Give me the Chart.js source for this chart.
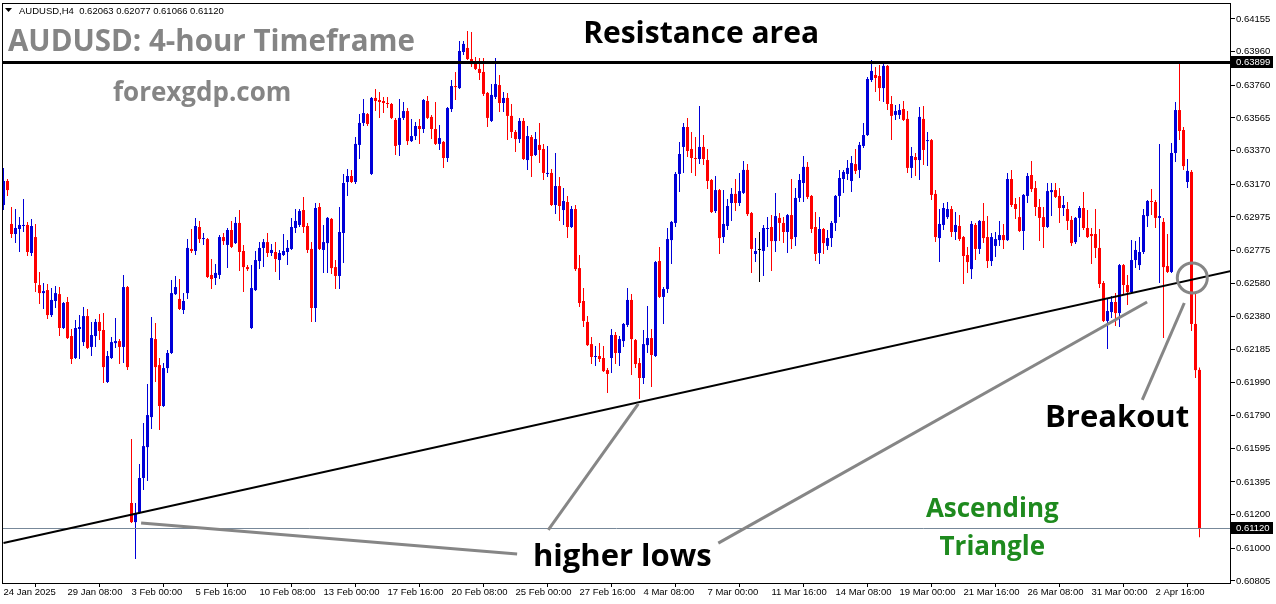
<!DOCTYPE html>
<html>
<head>
<meta charset="utf-8">
<title>AUDUSD H4</title>
<script src="https://cdn.jsdelivr.net/npm/chart.js@4.4.1/dist/chart.umd.min.js"></script>
<style>
	html, body { margin: 0; padding: 0; background: #ffffff; }
	#wrap { width: 1276px; height: 604px; }
</style>
</head>
<body>
<div id="wrap"><canvas id="chart" width="1276" height="604"></canvas></div>
<script>
// AUDUSD H4 candles (bar 0 = leftmost)
const opens = [
	0.63046, 0.63189, 0.62933, 0.62873, 0.62903, 0.62921, 0.62927, 0.62760, 0.62855, 0.62569,
	0.62521, 0.62539, 0.62390, 0.62474, 0.62515, 0.62313, 0.62468, 0.62265, 0.62134, 0.62307,
	0.62229, 0.62384, 0.62200, 0.62265, 0.62349, 0.62301, 0.61991, 0.62134, 0.62223, 0.62235,
	0.62200, 0.62557, 0.61270, 0.61156, 0.61210, 0.61419, 0.61603, 0.61782, 0.62247, 0.62092,
	0.61848, 0.62074, 0.62164, 0.62515, 0.62486, 0.62420, 0.62521, 0.62784, 0.62772, 0.62915,
	0.62843, 0.62843, 0.62629, 0.62611, 0.62629, 0.62855, 0.62808, 0.62897, 0.62819, 0.62939,
	0.62772, 0.62676, 0.62313, 0.62539, 0.62712, 0.62790, 0.62825, 0.62760, 0.62766, 0.62718,
	0.62748, 0.62766, 0.62784, 0.62909, 0.62927, 0.63016, 0.62921, 0.62784, 0.62432, 0.63034,
	0.62778, 0.62819, 0.62963, 0.62676, 0.62623, 0.62879, 0.63183, 0.63219, 0.63183, 0.63404,
	0.63535, 0.63588, 0.63231, 0.63684, 0.63672, 0.63666, 0.63654, 0.63648, 0.63553, 0.63404,
	0.63565, 0.63606, 0.63427, 0.63457, 0.63517, 0.63499, 0.63666, 0.63571, 0.63499, 0.63410,
	0.63422, 0.63326, 0.63618, 0.63755, 0.63743, 0.63958, 0.63982, 0.63916, 0.63904, 0.63857,
	0.63839, 0.63714, 0.63547, 0.63690, 0.63761, 0.63654, 0.63684, 0.63577, 0.63481, 0.63439,
	0.63547, 0.63314, 0.63451, 0.63344, 0.63404, 0.63380, 0.63231, 0.63237, 0.63046, 0.63159,
	0.63016, 0.63064, 0.62915, 0.63022, 0.62670, 0.62474, 0.62349, 0.62217, 0.62140, 0.62146,
	0.62134, 0.62062, 0.62134, 0.62271, 0.62164, 0.62235, 0.62331, 0.62480, 0.62241, 0.62104,
	0.62015, 0.62211, 0.62253, 0.62146, 0.62712, 0.62498, 0.62545, 0.62837, 0.62939, 0.63231,
	0.63392, 0.63511, 0.63380, 0.63326, 0.63320, 0.63392, 0.63314, 0.63195, 0.63010, 0.63135,
	0.62855, 0.62921, 0.63058, 0.63112, 0.63058, 0.63118, 0.63255, 0.62998, 0.62754, 0.62778,
	0.62772, 0.62903, 0.62915, 0.62831, 0.62969, 0.62939, 0.62885, 0.62986, 0.62855, 0.63088,
	0.63177, 0.63273, 0.63100, 0.62915, 0.62760, 0.62903, 0.62802, 0.62849, 0.62939, 0.63100,
	0.63201, 0.63231, 0.63189, 0.63290, 0.63255, 0.63398, 0.63463, 0.63791, 0.63821, 0.63815,
	0.63743, 0.63875, 0.63648, 0.63583, 0.63583, 0.63618, 0.63559, 0.63267, 0.63332, 0.63314,
	0.63559, 0.63427, 0.63433, 0.63112, 0.62849, 0.62927, 0.62974, 0.63022, 0.62885, 0.62921,
	0.62855, 0.62748, 0.62664, 0.62927, 0.62784, 0.62951, 0.62855, 0.62712, 0.62802, 0.62837,
	0.62867, 0.62837, 0.63201, 0.63052, 0.62974, 0.62891, 0.63100, 0.63225, 0.63147, 0.63034,
	0.62974, 0.62915, 0.63123, 0.63135, 0.63100, 0.63028, 0.63022, 0.62957, 0.62825, 0.62969,
	0.63028, 0.62909, 0.62873, 0.62873, 0.62790, 0.62581, 0.62355, 0.62408, 0.62468, 0.62402,
	0.62688, 0.62569, 0.62527, 0.62718, 0.62688, 0.62766, 0.62980, 0.63070, 0.63064, 0.62969,
	0.62945, 0.62682, 0.62647, 0.63356, 0.63612, 0.63493, 0.63183, 0.63243, 0.62337, 0.62063
]
const highs = [
	0.63267, 0.63201, 0.63034, 0.63022, 0.62974, 0.63082, 0.62945, 0.62963, 0.62933, 0.62647,
	0.62581, 0.62575, 0.62551, 0.62563, 0.62557, 0.62468, 0.62498, 0.62307, 0.62360, 0.62390,
	0.62438, 0.62426, 0.62349, 0.62366, 0.62396, 0.62402, 0.62176, 0.62259, 0.62372, 0.62247,
	0.62629, 0.62563, 0.61651, 0.61270, 0.61502, 0.61746, 0.61979, 0.62378, 0.62343, 0.62134,
	0.62104, 0.62182, 0.62599, 0.62623, 0.62605, 0.62521, 0.62843, 0.62903, 0.62969, 0.62951,
	0.62879, 0.62849, 0.62724, 0.62694, 0.62867, 0.62879, 0.62909, 0.62951, 0.62974, 0.63016,
	0.62808, 0.62688, 0.62688, 0.62772, 0.62825, 0.62843, 0.62879, 0.62814, 0.62825, 0.62778,
	0.62873, 0.62837, 0.62969, 0.63022, 0.63022, 0.63094, 0.62939, 0.62825, 0.63058, 0.63058,
	0.62927, 0.62974, 0.62969, 0.62718, 0.63034, 0.63231, 0.63261, 0.63255, 0.63451, 0.63588,
	0.63678, 0.63594, 0.63690, 0.63737, 0.63720, 0.63690, 0.63690, 0.63654, 0.63565, 0.63678,
	0.63660, 0.63624, 0.63559, 0.63541, 0.63559, 0.63678, 0.63696, 0.63583, 0.63660, 0.63523,
	0.63427, 0.63630, 0.63791, 0.63839, 0.64024, 0.64024, 0.64083, 0.64077, 0.63928, 0.63922,
	0.63922, 0.63720, 0.63767, 0.63922, 0.63821, 0.63720, 0.63714, 0.63648, 0.63493, 0.63565,
	0.63565, 0.63517, 0.63463, 0.63481, 0.63535, 0.63410, 0.63398, 0.63261, 0.63356, 0.63213,
	0.63147, 0.63100, 0.63040, 0.63046, 0.62748, 0.62551, 0.62384, 0.62259, 0.62205, 0.62223,
	0.62205, 0.62074, 0.62307, 0.62289, 0.62265, 0.62343, 0.62551, 0.62515, 0.62247, 0.62134,
	0.62301, 0.62444, 0.62307, 0.62712, 0.62796, 0.62557, 0.62909, 0.62951, 0.63243, 0.63422,
	0.63535, 0.63565, 0.63481, 0.63451, 0.63636, 0.63463, 0.63380, 0.63201, 0.63219, 0.63141,
	0.63135, 0.63082, 0.63147, 0.63201, 0.63237, 0.63308, 0.63290, 0.63004, 0.62849, 0.62885,
	0.62927, 0.62974, 0.62986, 0.63118, 0.62998, 0.62974, 0.62992, 0.63201, 0.63147, 0.63231,
	0.63338, 0.63302, 0.63106, 0.63004, 0.62974, 0.62909, 0.62897, 0.62951, 0.63106, 0.63255,
	0.63255, 0.63314, 0.63338, 0.63380, 0.63422, 0.63535, 0.63809, 0.63910, 0.63869, 0.63881,
	0.63898, 0.63881, 0.63696, 0.63642, 0.63648, 0.63666, 0.63606, 0.63392, 0.63356, 0.63630,
	0.63636, 0.63481, 0.63439, 0.63135, 0.63022, 0.63058, 0.63064, 0.63040, 0.63004, 0.62986,
	0.62861, 0.62796, 0.62951, 0.62939, 0.62957, 0.63058, 0.62980, 0.62879, 0.62885, 0.62951,
	0.62933, 0.63237, 0.63255, 0.63088, 0.63094, 0.63112, 0.63237, 0.63308, 0.63189, 0.63082,
	0.63034, 0.63177, 0.63177, 0.63177, 0.63147, 0.63100, 0.63064, 0.62980, 0.62974, 0.63040,
	0.63123, 0.63016, 0.62909, 0.63022, 0.62903, 0.62593, 0.62492, 0.62504, 0.62521, 0.62694,
	0.62694, 0.62629, 0.62837, 0.62831, 0.62855, 0.63022, 0.63076, 0.63141, 0.63076, 0.63410,
	0.62969, 0.62873, 0.63416, 0.63660, 0.63892, 0.63511, 0.63320, 0.63255, 0.62521, 0.62077
]
const lows = [
	0.63016, 0.63100, 0.62849, 0.62819, 0.62766, 0.62885, 0.62742, 0.62742, 0.62527, 0.62456,
	0.62426, 0.62366, 0.62378, 0.62432, 0.62265, 0.62307, 0.62247, 0.62098, 0.62128, 0.62128,
	0.62205, 0.62188, 0.62146, 0.62200, 0.62241, 0.61985, 0.61985, 0.62128, 0.62194, 0.62098,
	0.62104, 0.62062, 0.61150, 0.60936, 0.61204, 0.61347, 0.61401, 0.61711, 0.61991, 0.61705,
	0.61842, 0.62045, 0.62158, 0.62509, 0.62420, 0.62396, 0.62486, 0.62760, 0.62748, 0.62819,
	0.62808, 0.62611, 0.62545, 0.62569, 0.62605, 0.62808, 0.62670, 0.62790, 0.62814, 0.62653,
	0.62527, 0.62653, 0.62307, 0.62533, 0.62664, 0.62676, 0.62736, 0.62742, 0.62647, 0.62599,
	0.62742, 0.62688, 0.62778, 0.62879, 0.62915, 0.62879, 0.62760, 0.62349, 0.62349, 0.62778,
	0.62641, 0.62641, 0.62635, 0.62545, 0.62545, 0.62700, 0.63100, 0.63177, 0.63171, 0.63320,
	0.63517, 0.63517, 0.63225, 0.63606, 0.63565, 0.63594, 0.63624, 0.63559, 0.63344, 0.63338,
	0.63553, 0.63404, 0.63422, 0.63433, 0.63410, 0.63475, 0.63559, 0.63439, 0.63404, 0.63374,
	0.63267, 0.63302, 0.63600, 0.63672, 0.63737, 0.63940, 0.63910, 0.63869, 0.63851, 0.63791,
	0.63696, 0.63511, 0.63541, 0.63678, 0.63600, 0.63600, 0.63433, 0.63445, 0.63362, 0.63416,
	0.63314, 0.63255, 0.63213, 0.63338, 0.63296, 0.63195, 0.63213, 0.63040, 0.62992, 0.62951,
	0.62927, 0.62849, 0.62909, 0.62653, 0.62438, 0.62319, 0.62205, 0.62098, 0.62086, 0.62110,
	0.62051, 0.61925, 0.62045, 0.62098, 0.62086, 0.62200, 0.62319, 0.62033, 0.62074, 0.61890,
	0.61979, 0.62164, 0.61961, 0.62140, 0.62492, 0.62337, 0.62521, 0.62694, 0.62915, 0.63123,
	0.63237, 0.63332, 0.63237, 0.63219, 0.63290, 0.63284, 0.63141, 0.62998, 0.62998, 0.62754,
	0.62819, 0.62897, 0.62951, 0.63010, 0.63040, 0.63112, 0.62980, 0.62641, 0.62706, 0.62587,
	0.62623, 0.62796, 0.62653, 0.62766, 0.62831, 0.62819, 0.62760, 0.62784, 0.62802, 0.63064,
	0.63064, 0.63082, 0.62879, 0.62712, 0.62694, 0.62754, 0.62778, 0.62796, 0.62891, 0.62974,
	0.63118, 0.63195, 0.63123, 0.63231, 0.63207, 0.63386, 0.63457, 0.63779, 0.63720, 0.63666,
	0.63660, 0.63612, 0.63433, 0.63553, 0.63559, 0.63547, 0.63237, 0.63207, 0.63219, 0.63195,
	0.63284, 0.63278, 0.63076, 0.62825, 0.62706, 0.62897, 0.62963, 0.62855, 0.62837, 0.62831,
	0.62575, 0.62641, 0.62605, 0.62718, 0.62754, 0.62819, 0.62670, 0.62682, 0.62736, 0.62802,
	0.62784, 0.62831, 0.63034, 0.62963, 0.62885, 0.62778, 0.63058, 0.63123, 0.62980, 0.62831,
	0.62790, 0.62909, 0.62980, 0.63088, 0.62939, 0.62980, 0.62897, 0.62802, 0.62814, 0.62855,
	0.62897, 0.62849, 0.62694, 0.62730, 0.62551, 0.62349, 0.62188, 0.62372, 0.62325, 0.62319,
	0.62509, 0.62450, 0.62521, 0.62670, 0.62659, 0.62754, 0.62915, 0.62986, 0.62909, 0.62581,
	0.62253, 0.62641, 0.62641, 0.63302, 0.63433, 0.63255, 0.63147, 0.62295, 0.62015, 0.61066
]
const closes = [
	0.63189, 0.63135, 0.62873, 0.62909, 0.62927, 0.62927, 0.62766, 0.62921, 0.62581, 0.62521,
	0.62533, 0.62390, 0.62480, 0.62521, 0.62313, 0.62462, 0.62253, 0.62128, 0.62313, 0.62319,
	0.62384, 0.62194, 0.62271, 0.62349, 0.62295, 0.62080, 0.62146, 0.62229, 0.62235, 0.62200,
	0.62557, 0.62080, 0.61156, 0.61210, 0.61419, 0.61609, 0.61794, 0.62253, 0.62080, 0.61848,
	0.62074, 0.62164, 0.62521, 0.62557, 0.62426, 0.62474, 0.62790, 0.62772, 0.62921, 0.62843,
	0.62849, 0.62617, 0.62605, 0.62641, 0.62855, 0.62831, 0.62897, 0.62796, 0.62939, 0.62766,
	0.62676, 0.62664, 0.62551, 0.62718, 0.62790, 0.62825, 0.62760, 0.62778, 0.62724, 0.62760,
	0.62772, 0.62790, 0.62915, 0.62951, 0.63010, 0.62915, 0.62778, 0.62432, 0.63028, 0.62784,
	0.62825, 0.62969, 0.62670, 0.62623, 0.62885, 0.63177, 0.63219, 0.63183, 0.63410, 0.63535,
	0.63594, 0.63529, 0.63684, 0.63666, 0.63660, 0.63654, 0.63648, 0.63565, 0.63398, 0.63565,
	0.63606, 0.63427, 0.63457, 0.63517, 0.63499, 0.63672, 0.63565, 0.63499, 0.63410, 0.63445,
	0.63326, 0.63624, 0.63755, 0.63749, 0.63964, 0.64006, 0.63916, 0.63886, 0.63857, 0.63833,
	0.63708, 0.63565, 0.63702, 0.63767, 0.63654, 0.63684, 0.63577, 0.63481, 0.63439, 0.63547,
	0.63320, 0.63457, 0.63338, 0.63439, 0.63374, 0.63237, 0.63237, 0.63046, 0.63159, 0.63040,
	0.63070, 0.62915, 0.63022, 0.62664, 0.62462, 0.62355, 0.62211, 0.62140, 0.62146, 0.62128,
	0.62056, 0.62039, 0.62271, 0.62164, 0.62247, 0.62337, 0.62480, 0.62247, 0.62098, 0.62015,
	0.62217, 0.62253, 0.62152, 0.62706, 0.62498, 0.62545, 0.62843, 0.62945, 0.63231, 0.63350,
	0.63511, 0.63368, 0.63326, 0.63320, 0.63392, 0.63320, 0.63189, 0.63004, 0.63135, 0.62849,
	0.62933, 0.63040, 0.63112, 0.63058, 0.63129, 0.63255, 0.62992, 0.62784, 0.62772, 0.62778,
	0.62909, 0.62909, 0.62831, 0.62980, 0.62939, 0.62885, 0.62986, 0.62843, 0.63088, 0.63195,
	0.63273, 0.63094, 0.62903, 0.62754, 0.62903, 0.62819, 0.62849, 0.62939, 0.63100, 0.63207,
	0.63243, 0.63267, 0.63296, 0.63249, 0.63404, 0.63463, 0.63797, 0.63845, 0.63803, 0.63743,
	0.63875, 0.63648, 0.63577, 0.63606, 0.63612, 0.63553, 0.63267, 0.63338, 0.63314, 0.63571,
	0.63374, 0.63433, 0.63106, 0.62855, 0.62933, 0.63028, 0.63022, 0.62885, 0.62927, 0.62843,
	0.62742, 0.62706, 0.62933, 0.62784, 0.62951, 0.62849, 0.62712, 0.62855, 0.62843, 0.62867,
	0.62837, 0.63201, 0.63046, 0.63022, 0.62891, 0.63106, 0.63219, 0.63141, 0.63034, 0.62969,
	0.62915, 0.63129, 0.63135, 0.63094, 0.63028, 0.63046, 0.62951, 0.62819, 0.62969, 0.63028,
	0.62909, 0.62855, 0.62861, 0.62790, 0.62575, 0.62355, 0.62414, 0.62468, 0.62402, 0.62688,
	0.62569, 0.62527, 0.62718, 0.62778, 0.62766, 0.62986, 0.63070, 0.63064, 0.62969, 0.62980,
	0.62676, 0.62647, 0.63356, 0.63612, 0.63487, 0.63278, 0.63249, 0.62337, 0.62062, 0.61120
]

// axis labels as printed on the chart
const price_ticks = [
	0.64155, 0.63960, 0.63760, 0.63565, 0.63370, 0.63170, 0.62975, 0.62775, 0.62580,
	0.62380, 0.62185, 0.61990, 0.61790, 0.61595, 0.61395, 0.61200, 0.61000, 0.60805
]
const date_labels = [
	"24 Jan 2025", "29 Jan 08:00", "3 Feb 00:00", "5 Feb 16:00", "10 Feb 08:00",
	"13 Feb 00:00", "17 Feb 16:00", "20 Feb 08:00", "25 Feb 00:00", "27 Feb 16:00",
	"4 Mar 08:00", "7 Mar 00:00", "11 Mar 16:00", "14 Mar 08:00", "19 Mar 00:00",
	"21 Mar 16:00", "26 Mar 08:00", "31 Mar 00:00", "2 Apr 16:00"
]
const date_step = 16

// drawn objects (bar index, price)
const resistance_level = 0.63899
const bid_level = 0.61120
const trend_line = [[0, 0.61031], [307, 0.62653]]
const pointer_lines = [
	[[34.4, 0.61150], [128.4, 0.60966]],
	[[136.2, 0.61109], [158.7, 0.61860]],
	[[178.7, 0.61031], [285.9, 0.62468]],
	[[284.7, 0.61884], [295.2, 0.62462]]
]
const breakout_point = [297.2, 0.62611]

const up_color = "#0000d8"
const down_color = "#ff0000"
const doji_color = "#000000"

const candle_colors = opens.map((o, i) =>
	closes[i] > o ? up_color : (closes[i] < o ? down_color : doji_color)
)

// pin an axis to a fixed size with no label overflow padding
const fixed_size = (size, dim) => scale => {
	scale[dim] = size
	scale.paddingTop = 0
	scale.paddingBottom = 0
	scale.paddingLeft = 0
	scale.paddingRight = 0
}

const overlay_plugin = {
	id: "overlay",
	afterDatasetsDraw(chart) {
		const { ctx, chartArea: area, scales: { x, y } } = chart
		const px = p => x.getPixelForValue(p[0])
		const py = p => y.getPixelForValue(p[1])

		ctx.save()
		ctx.beginPath()
		ctx.rect(area.left, area.top, area.right - area.left, area.bottom - area.top)
		ctx.clip()

		// bid line
		const bid_y = Math.round(y.getPixelForValue(bid_level)) + 0.5
		ctx.strokeStyle = "#778899"
		ctx.lineWidth = 1
		ctx.beginPath()
		ctx.moveTo(area.left, bid_y)
		ctx.lineTo(area.right, bid_y)
		ctx.stroke()

		// resistance line
		const res_y = Math.round(y.getPixelForValue(resistance_level))
		ctx.strokeStyle = "#000000"
		ctx.lineWidth = 3
		ctx.beginPath()
		ctx.moveTo(area.left, res_y + 0.5)
		ctx.lineTo(area.right, res_y + 0.5)
		ctx.stroke()

		// ascending trend line
		ctx.lineWidth = 2
		ctx.beginPath()
		ctx.moveTo(px(trend_line[0]), py(trend_line[0]))
		ctx.lineTo(px(trend_line[1]), py(trend_line[1]))
		ctx.stroke()

		// pointers
		ctx.strokeStyle = "#868686"
		ctx.lineWidth = 3
		pointer_lines.forEach(line => {
			ctx.beginPath()
			ctx.moveTo(px(line[0]), py(line[0]))
			ctx.lineTo(px(line[1]), py(line[1]))
			ctx.stroke()
		})

		ctx.beginPath()
		ctx.arc(px(breakout_point), py(breakout_point), 15, 0, Math.PI * 2)
		ctx.stroke()

		// labels
		const label = (text, at, color, size) => {
			ctx.font = `bold ${size}px "Open Sans"`
			ctx.fillStyle = color
			ctx.textAlign = "center"
			ctx.textBaseline = "alphabetic"
			ctx.fillText(text, px(at), py(at))
		}
		label("Resistance area", [174.4, 0.64010], "#000000", 30)
		label("higher lows", [154.7, 0.60896], "#000000", 31)
		label("Breakout", [278.4, 0.61722], "#000000", 31)
		label("Ascending", [247.2, 0.61185], "#1e8a1e", 26)
		label("Triangle", [247.2, 0.60958], "#1e8a1e", 26)

		ctx.restore()
	},
	afterDraw(chart) {
		const { ctx, chartArea: area, scales: { y } } = chart

		ctx.save()
		// frame
		ctx.strokeStyle = "#000000"
		ctx.lineWidth = 1
		ctx.strokeRect(area.left + 0.5, area.top + 0.5, area.right - area.left - 1, area.bottom - area.top)

		// price boxes on the axis
		const box = value => {
			const cy = Math.round(y.getPixelForValue(value))
			ctx.fillStyle = "#000000"
			ctx.fillRect(area.right, cy - 6, 42, 12)
			ctx.fillStyle = "#ffffff"
			ctx.font = "9.5px 'Liberation Sans'"
			ctx.textAlign = "left"
			ctx.textBaseline = "middle"
			ctx.fillText(value.toFixed(5), area.right + 5, cy + 0.5)
		}
		box(resistance_level)
		box(bid_level)

		// header
		ctx.fillStyle = "#000000"
		ctx.beginPath()
		ctx.moveTo(5, 8)
		ctx.lineTo(12, 8)
		ctx.lineTo(8.5, 12)
		ctx.closePath()
		ctx.fill()
		const last = opens.length - 1
		const header = "AUDUSD,H4  " + [opens[last], highs[last], lows[last], closes[last]].map(v => v.toFixed(5)).join(" ")
		ctx.font = "9.5px 'Liberation Sans'"
		ctx.textAlign = "left"
		ctx.textBaseline = "alphabetic"
		ctx.fillText(header, 19, 14)

		// title and site
		ctx.fillStyle = "#858585"
		ctx.font = "bold 29.5px 'Open Sans'"
		ctx.fillText("AUDUSD: 4-hour Timeframe", 8, 51)
		ctx.font = "bold 26px 'Open Sans'"
		ctx.fillText("forexgdp.com", 113, 101)
		ctx.restore()
	}
}

new Chart(document.getElementById("chart"), {
	type: "bar",
	data: {
		datasets: [
			{
				label: "wicks",
				data: opens.map((o, i) => ({ x: i, y: [lows[i], highs[i]] })),
				backgroundColor: candle_colors,
				maxBarThickness: 1
			},
			{
				label: "bodies",
				data: opens.map((o, i) => ({ x: i, y: [o, closes[i]] })),
				backgroundColor: candle_colors,
				maxBarThickness: 3,
				minBarLength: 1
			}
		]
	},
	options: {
		responsive: false,
		animation: false,
		devicePixelRatio: 1,
		layout: { padding: { left: 2, top: 3, right: 0, bottom: 0 } },
		datasets: {
			bar: {
				grouped: false,
				categoryPercentage: 1,
				barPercentage: 1,
				borderWidth: 0,
				inflateAmount: 0
			}
		},
		plugins: {
			legend: { display: false },
			tooltip: { enabled: false }
		},
		scales: {
			x: {
				type: "linear",
				min: -0.375,
				max: 306.875,
				offset: false,
				afterBuildTicks: scale => {
					scale.ticks = date_labels.map((d, k) => ({ value: k * date_step }))
				},
				afterFit: fixed_size(21, "height"),
				border: { display: false },
				grid: {
					drawOnChartArea: false,
					drawTicks: true,
					tickLength: 4,
					color: "#000000"
				},
				ticks: {
					autoSkip: false,
					maxRotation: 0,
					align: "start",
					padding: 0,
					color: "#000000",
					font: { family: "'Liberation Sans'", size: 9.5 },
					callback: value => date_labels[Math.round(value / date_step)]
				}
			},
			y: {
				type: "linear",
				position: "right",
				min: 0.60793,
				max: 0.64250,
				afterBuildTicks: scale => {
					scale.ticks = price_ticks.map(v => ({ value: v }))
				},
				afterFit: fixed_size(45, "width"),
				border: { display: false },
				grid: {
					drawOnChartArea: false,
					drawTicks: true,
					tickLength: 4,
					color: "#000000"
				},
				ticks: {
					padding: 1,
					color: "#000000",
					font: { family: "'Liberation Sans'", size: 9.5 },
					callback: value => value.toFixed(5)
				}
			}
		}
	},
	plugins: [overlay_plugin]
})
</script>
</body>
</html>
